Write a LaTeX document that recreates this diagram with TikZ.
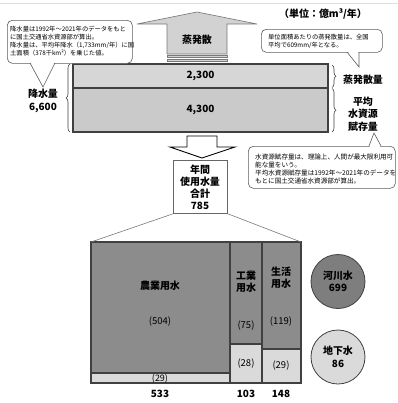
\documentclass[tikz,border=0pt]{standalone}
\usepackage{fontspec}
\setmainfont{Noto Sans CJK JP}
\usetikzlibrary{decorations.pathreplacing}
\definecolor{edge}{HTML}{404040}
\definecolor{darkfill}{HTML}{8C8C8C}
\definecolor{riverfill}{HTML}{7E7E7E}
\definecolor{lightfill}{HTML}{DADADA}
\definecolor{bandA}{HTML}{D6D6D6}
\definecolor{bandB}{HTML}{CACACA}
\definecolor{arrowfill}{HTML}{D2D2D2}
\begin{document}
\begin{tikzpicture}[x={(1bp,0)},y={(0,-1bp)},
 lbl/.style={font=\fontsize{10}{12.5}\selectfont\bfseries, align=center, inner sep=0},
 num/.style={font=\fontsize{9.5}{11}\selectfont, inner sep=0},
 note/.style={font=\fontsize{6.3}{8}\selectfont, align=left, inner sep=0},
 notebig/.style={font=\fontsize{6.6}{8}\selectfont, align=left, inner sep=0},
 callout/.style={draw=edge!85, line width=0.6bp, fill=white, rounded corners=5bp, inner sep=0, anchor=north west},
 block/.style={draw=edge, line width=1.1bp, inner sep=0, outer sep=0, anchor=north west},
 brc/.style={draw=edge, line width=0.6bp, decorate, decoration={brace, amplitude=4bp}},
 thinline/.style={draw=edge!70, line width=0.6bp},
]
\useasboundingbox (0,0) rectangle (398,403);
\fill[white] (0,0) rectangle (398,403);
\draw[gray!25, line width=0.5bp] (0,3) -- (398,3);

% unit
\node[lbl] (unit) at (323,14) {（単位：億m³/年）};

% evaporation arrow
\draw[draw=edge!70, fill=arrowfill, line width=0.6bp] (197,12) -- (257,24) -- (227,24) -- (227,54) -- (167,54) -- (167,24) -- (137,24) -- cycle;
\draw[draw=edge!70, fill=arrowfill, line width=0.5bp] (167,55.5) rectangle (227,57.5);
\draw[draw=edge!70, fill=arrowfill, line width=0.5bp] (167,59) rectangle (227,61);
\node[lbl] (evaplbl) at (197,40) {蒸発散};

% bands
\node[block, fill=bandA, minimum width=255bp, minimum height=24bp] (evapband) at (73,64) {};
\node[lbl] at (evapband.center) {2,300};
\node[block, fill=bandB, minimum width=255bp, minimum height=44bp] (storband) at (73,88) {};
\node[lbl] at (storband.center) {4,300};

% braces and side labels
\coordinate (lbA) at (70,132); \coordinate (lbB) at (70,64);
\draw[brc] (lbA) -- (lbB);
\node[lbl] (rain) at (43,101) {降水量\\6,600};
\coordinate (rbA) at (332,65); \coordinate (rbB) at (332,87.5);
\coordinate (rbC) at (332,88.5); \coordinate (rbD) at (332,132);
\draw[brc] (rbA) -- (rbB);
\draw[brc] (rbC) -- (rbD);
\node[lbl] (evapq) at (363,80) {蒸発散量};
\node[lbl] (storq) at (363,114) {平均\\水資源\\賦存量};

% callouts
\node[callout, minimum width=125bp, minimum height=43bp] (noteL) at (7,20) {};
\fill[white] (30.5,62) -- (43,87) -- (54.5,62) -- cycle;
\draw[draw=edge!85, line width=0.6bp] (30,63) -- (43,87) -- (55,63);
\node[note, anchor=west] (noteLtxt) at (10,41) {降水量は1992年～2021年のデータをもと\\に国土交通省水資源部が算出。\\降水量は、平均年降水（1,733mm/年）に国\\土面積（378千km²）を乗じた値。};

\node[callout, minimum width=121bp, minimum height=23bp] (noteR) at (261,29) {};
\fill[white] (347.5,51) -- (359,67) -- (358.5,51) -- cycle;
\draw[draw=edge!85, line width=0.6bp] (347,52) -- (359,67) -- (359,52);
\node[note, anchor=west] (noteRtxt) at (268,41) {単位面積あたりの蒸発散量は、全国\\平均で609mm/年となる。};

\node[callout, minimum width=147bp, minimum height=42bp] (noteS) at (248,146) {};
\fill[white] (369.5,147) -- (374,133) -- (380.5,147) -- cycle;
\draw[draw=edge!85, line width=0.6bp] (369,146) -- (374,133) -- (381,146);
\node[notebig, anchor=west] (noteStxt) at (255,169) {水資源賦存量は、理論上、人間が最大限利用可\\能な量をいう。\\平均水資源賦存量は1992年～2021年のデータを\\もとに国土交通省水資源部が算出。};

% down arrow
\draw[draw=black, fill=white, line width=0.9bp] (187,136) -- (217,136) -- (217,147) -- (235,147) -- (202,158) -- (170,147) -- (187,147) -- cycle;

% total box
\node[draw=edge!80, line width=0.8bp, fill=white, minimum width=54bp, minimum height=53bp, inner sep=0, anchor=north west] (total) at (173,160) {};
\node[lbl, font=\fontsize{10}{12}\selectfont\bfseries] (totaltxt) at (200,187.5) {年間\\使用水量\\合計\\785};

% chart
\node[block, fill=darkfill, minimum width=139bp, minimum height=131bp] (agri) at (91,242) {};
\node[block, fill=lightfill, minimum width=139bp, minimum height=10bp] (agriB) at (91,373) {};
\node[block, fill=darkfill, minimum width=32bp, minimum height=102bp] (ind) at (230,242) {};
\node[block, fill=lightfill, minimum width=32bp, minimum height=39bp] (indB) at (230,344) {};
\node[block, fill=darkfill, minimum width=39bp, minimum height=107bp] (dom) at (262,242) {};
\node[block, fill=lightfill, minimum width=39bp, minimum height=34bp] (domB) at (262,349) {};

\draw[thinline] (total.south west) -- (agri.north west);
\draw[thinline] (total.south east) -- (dom.north east);

\node[lbl] (agrilbl) at (160,286) {農業用水};
\node[num] (agriv) at (160,322) {(504)};
\node[num, font=\fontsize{9}{10}\selectfont] (agriBv) at (160,378.5) {(29)};
\node[lbl] (indlbl) at (246,282) {工業\\用水};
\node[num] (indv) at (246,326) {(75)};
\node[num] (indBv) at (246,364) {(28)};
\node[lbl] (domlbl) at (281,278) {生活\\用水};
\node[num] (domv) at (281,322) {(119)};
\node[num] (domBv) at (281,366) {(29)};
\node[lbl] (agrit) at (160,394) {533};
\node[lbl] (indt) at (246,394) {103};
\node[lbl] (domt) at (281,394) {148};

% circles
\node[circle, draw=edge, line width=0.8bp, fill=riverfill, minimum size=54bp, inner sep=0, lbl] (river) at (338,281.5) {河川水\\699};
\node[circle, draw=edge, line width=0.8bp, fill=lightfill, minimum size=54bp, inner sep=0, lbl] (ground) at (338,357) {地下水\\86};
\end{tikzpicture}
\end{document}
